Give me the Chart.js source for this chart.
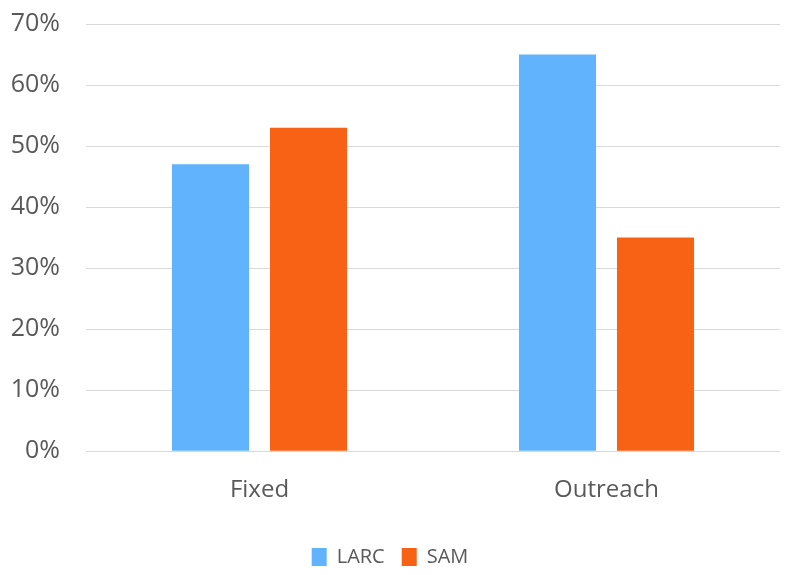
<!DOCTYPE html>
<html>
<head>
<meta charset="utf-8">
<script src="https://cdn.jsdelivr.net/npm/chart.js@4"></script>
<style>
  html, body { margin: 0; padding: 0; background: #fff; }
  #wrap { width: 796px; height: 575px; }
</style>
</head>
<body>
<div id="wrap"><canvas id="c" width="796" height="575"></canvas></div>
<script>
const categories = ['Fixed', 'Outreach'];
const larc = [47, 65];
const sam = [53, 35];
const yTicks = [0, 10, 20, 30, 40, 50, 60, 70];

const textColor = '#595959';

new Chart(document.getElementById('c'), {
  type: 'bar',
  data: {
    labels: categories,
    datasets: [
      { label: 'LARC', data: larc, backgroundColor: '#61b3fe' },
      { label: 'SAM', data: sam, backgroundColor: '#f76215' }
    ]
  },
  options: {
    responsive: false,
    animation: false,
    layout: { padding: { top: 24, right: 16, left: 0, bottom: -2 } },
    datasets: {
      bar: { categoryPercentage: 0.565, barPercentage: 0.786 }
    },
    scales: {
      y: {
        min: 0,
        max: 70,
        afterBuildTicks: (axis) => { axis.ticks = yTicks.map(v => ({ value: v })); },
        afterFit: (axis) => { axis.width = 86; axis.paddingTop = 0; axis.paddingBottom = 0; },
        ticks: {
          color: textColor,
          font: { family: 'Open Sans', size: 25 },
          padding: 26,
          callback: (v) => v + '%'
        },
        grid: { color: '#d9d9d9', lineWidth: 1, drawTicks: false },
        border: { display: false }
      },
      x: {
        ticks: { color: textColor, font: { family: 'Open Sans', size: 24 }, padding: 25 },
        grid: { display: false, drawTicks: false },
        border: { display: false }
      }
    },
    plugins: {
      legend: {
        position: 'bottom',
        labels: {
          color: textColor,
          font: { family: 'Open Sans', size: 20 },
          boxWidth: 15,
          boxHeight: 18,
          padding: 17
        }
      },
      tooltip: { enabled: false }
    }
  }
});
</script>
</body>
</html>
